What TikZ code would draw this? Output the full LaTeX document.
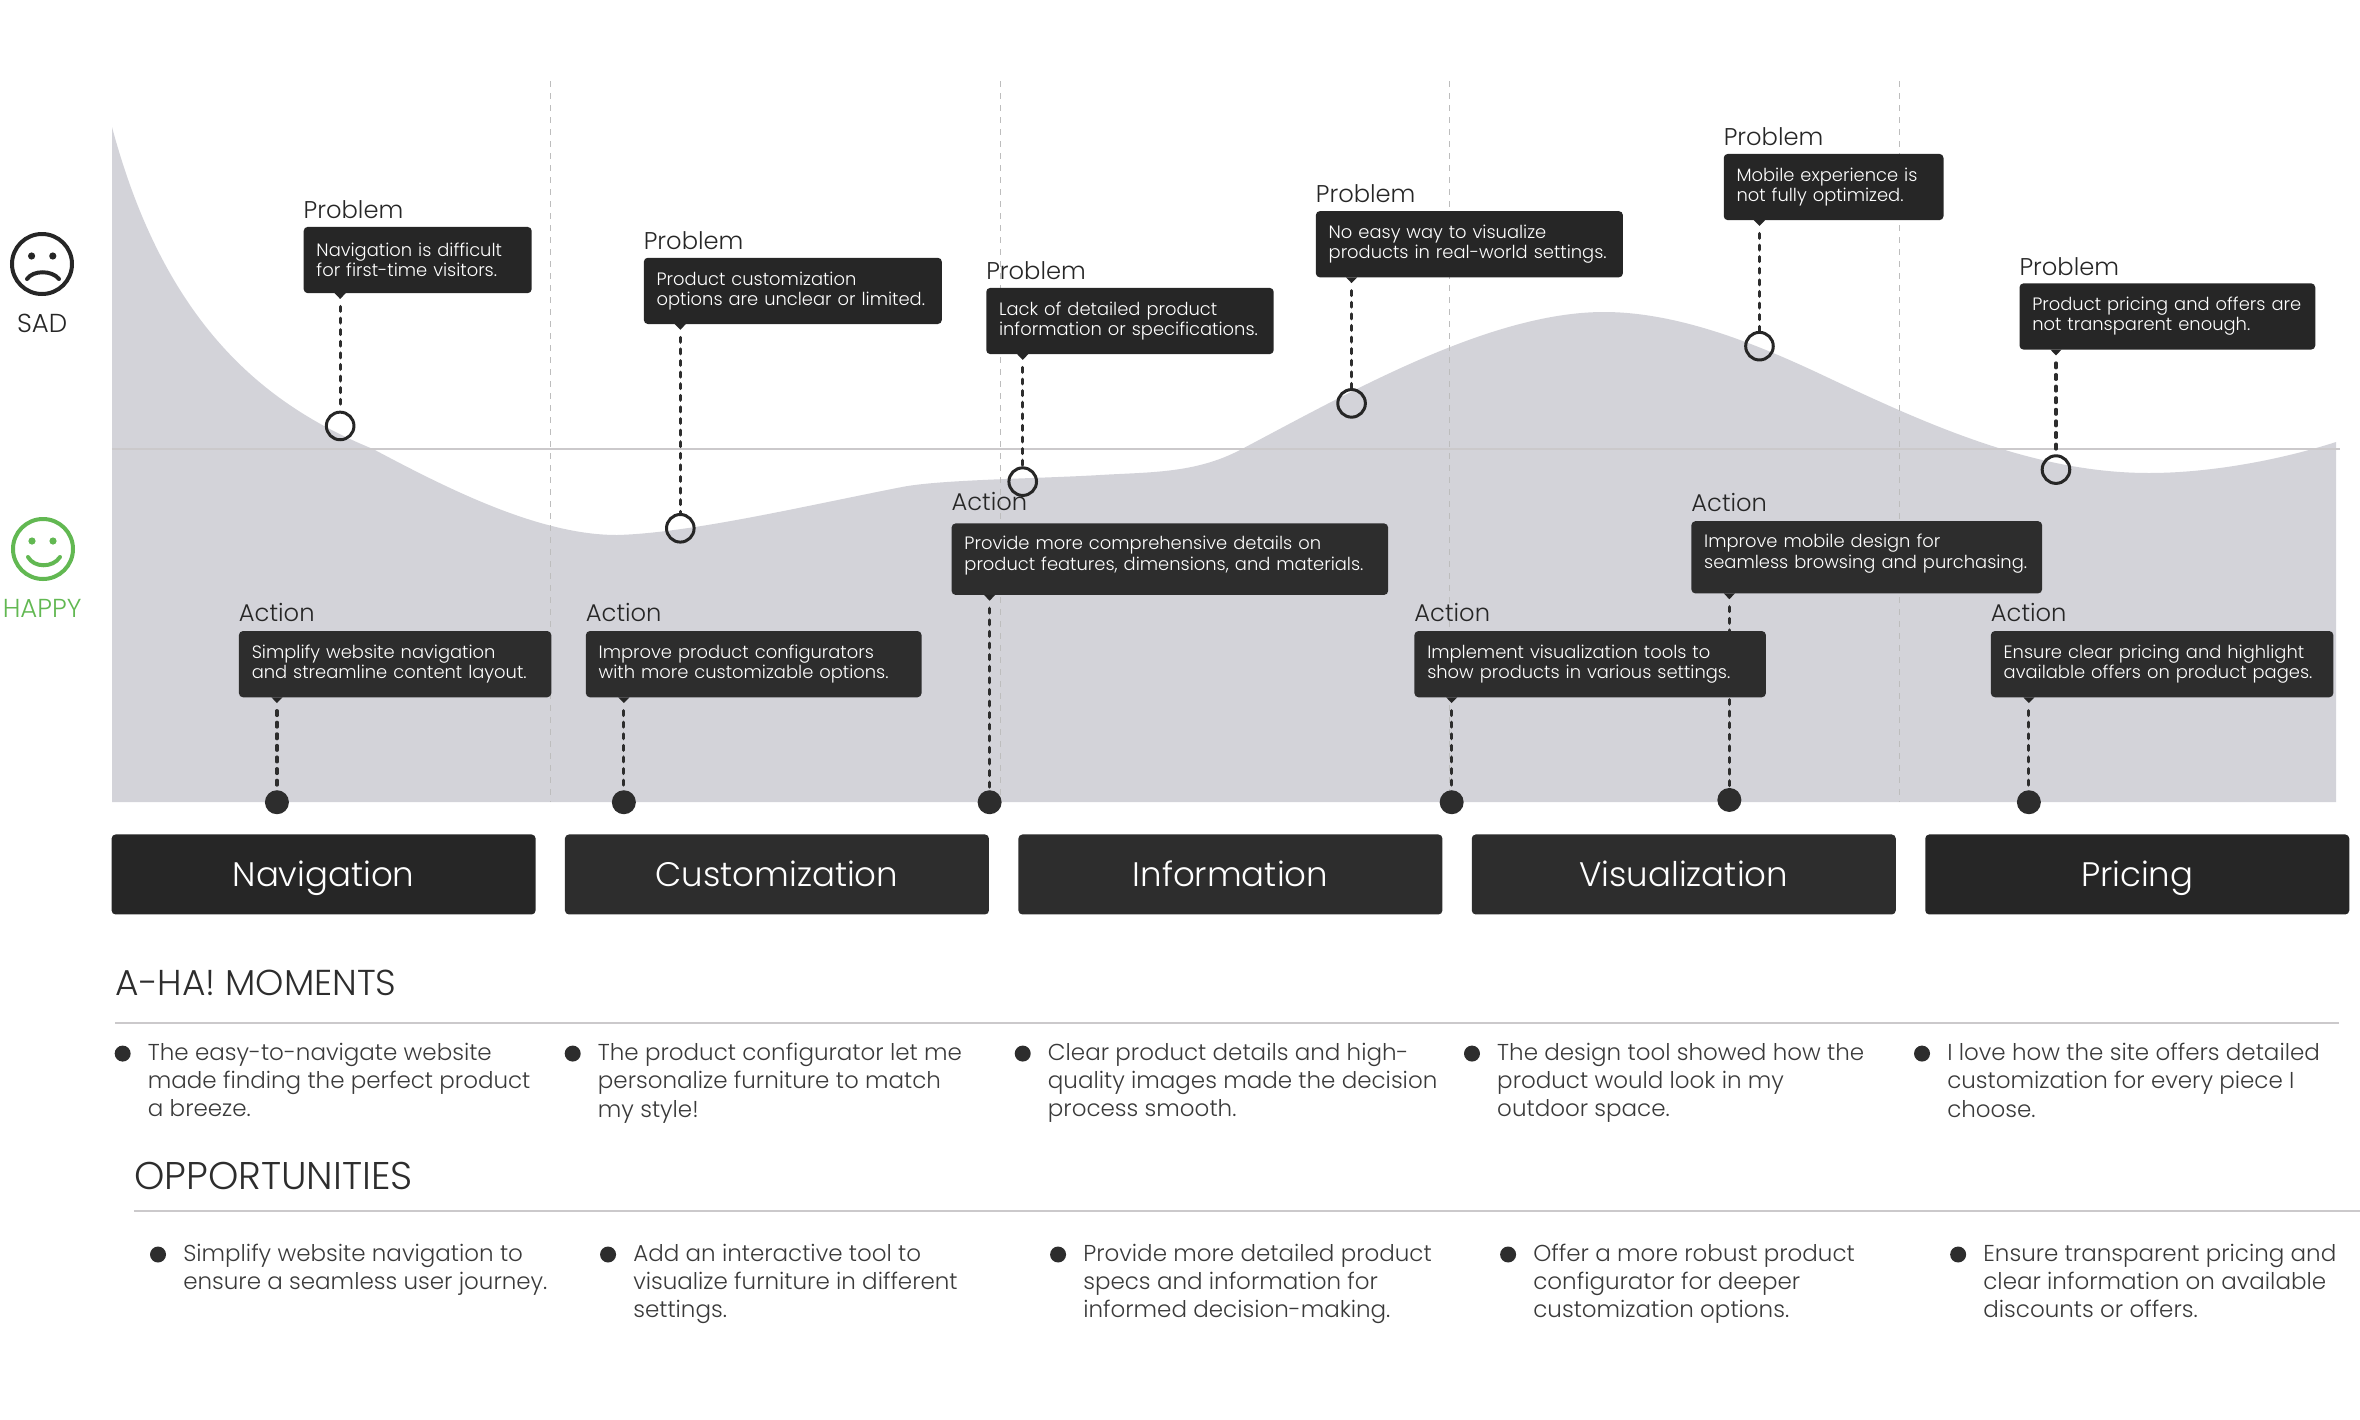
\documentclass[tikz,border=0pt]{standalone}
\usepackage{fontspec}
\setmainfont{Poppins Light}
\usetikzlibrary{calc}
\definecolor{inkdark}{HTML}{262626}
\definecolor{inkmid}{HTML}{2D2D2D}
\definecolor{bodyink}{HTML}{3A3A3A}
\definecolor{areafill}{HTML}{D3D3D9}
\definecolor{ruleline}{HTML}{CBC9CB}
\definecolor{zoneline}{HTML}{BDBDBD}
\definecolor{happygreen}{HTML}{62B852}
\pgfdeclarelayer{under}
\pgfsetlayers{under,main}
\newcommand{\twolines}[2]{\mbox{#1}\\\mbox{#2}}
\tikzset{
  callbox/.style={rounded corners=2pt,fill=inkmid,text=white,inner xsep=6.4pt,inner ysep=0pt,align=left,font=\fontsize{8.95}{10.1}\selectfont},
  problembox/.style={callbox,fill=inkdark},
  actionbox/.style={callbox,fill=inkmid},
  calltitle/.style={inner sep=0pt,text=inkdark,font=\fontsize{12.1}{13}\selectfont},
  hollowdot/.style={circle,draw=inkdark,line width=1.5pt,minimum size=13.8pt,inner sep=0pt},
  soliddot/.style={circle,fill=inkmid,minimum size=12pt,inner sep=0pt},
  dashlink/.style={draw=inkmid,line width=1.6pt,line cap=round,dash pattern=on 2.4pt off 3.4pt},
  stagebar/.style={rounded corners=2pt,fill=inkmid,text=white,inner sep=0pt,minimum width=212pt,minimum height=40pt,text height=15pt,text depth=3.4pt,font=\fontsize{17}{20}\selectfont},
  sectionhead/.style={anchor=west,inner sep=0pt,text=inkmid},
  bulletdot/.style={circle,fill=inkmid,minimum size=8pt,inner sep=0pt},
  bodytext/.style={anchor=north west,inner sep=0pt,align=left,text=bodyink,font=\fontsize{11.5}{14.05}\selectfont},
  facestroke/.style={line width=2pt,line cap=round},
  facelabel/.style={inner sep=0pt,font=\fontsize{13}{15}\selectfont},
}
% id, x, ytop, w, h, title, title gap (pt), tip x, style; text comes from \calltext
\newcommand{\callout}[9]{%
  \pgfmathsetlengthmacro{\boxtw}{#4*0.75255pt-12.8pt}%
  \pgfmathsetlengthmacro{\boxmh}{#5*0.75255pt}%
  \node[#9,anchor=north west,text width=\boxtw,minimum height=\boxmh] (#1) at (#2,#3) {\calltext};
  \node[calltitle,anchor=base west] (#1t) at ([yshift=#7pt]#1.north west) {#6};
  \coordinate (#1c) at (#8,#3);
  \fill[inkdark] ($(#1.south -| #1c)+(-2.8pt,0.2pt)$) -- ($(#1.south -| #1c)+(2.8pt,0.2pt)$) -- ($(#1.south -| #1c)+(0,-2.7pt)$) -- cycle;
}
\begin{document}
\begin{tikzpicture}[x=0.75255pt,y=-0.75255pt]
\useasboundingbox (0,0) rectangle (1568,943.45);

% ---- callouts
\def\calltext{\twolines{Navigation is difficult}{for first-time visitors.}}
\callout{p1}{201.5}{150.5}{151.5}{44}{Problem}{3.9}{226}{problembox}
\def\calltext{\twolines{Product customization}{options are unclear or limited.}}
\callout{p2}{427.5}{171}{198}{44}{Problem}{3.9}{452}{problembox}
\def\calltext{\twolines{Lack of detailed product}{information or specifications.}}
\callout{p3}{655}{191}{191}{44}{Problem}{3.9}{679.5}{problembox}
\def\calltext{\twolines{No easy way to visualize}{products in real-world settings.}}
\callout{p4}{874}{140}{204}{44}{Problem}{3.9}{898}{problembox}
\def\calltext{\twolines{Mobile experience is}{not fully optimized.}}
\callout{p5}{1145}{102}{146}{44}{Problem}{3.9}{1169}{problembox}
\def\calltext{\twolines{Product pricing and offers are}{not transparent enough.}}
\callout{p6}{1341.5}{188}{196.5}{44}{Problem}{3.9}{1366}{problembox}
\def\calltext{\twolines{Simplify website navigation}{and streamline content layout.}}
\callout{a1}{158.5}{419}{207.5}{44}{Action}{4.6}{184}{actionbox}
\def\calltext{\twolines{Improve product configurators}{with more customizable options.}}
\callout{a2}{389}{419}{223}{44}{Action}{4.6}{414.5}{actionbox}
\def\calltext{\twolines{Provide more comprehensive details on}{product features, dimensions, and materials.}\rule[-6pt]{0pt}{1pt}}
\callout{a3}{632}{347.5}{290}{47.5}{Action}{6.4}{657.5}{actionbox}
\def\calltext{\twolines{Implement visualization tools to}{show products in various settings.}}
\callout{a4}{939.5}{419}{233.5}{44}{Action}{4.6}{964.5}{actionbox}
\def\calltext{\twolines{Improve mobile design for}{seamless browsing and purchasing.}\rule[-6pt]{0pt}{1pt}}
\callout{a5}{1123.5}{346}{233}{48}{Action}{4.6}{1149}{actionbox}
\def\calltext{\twolines{Ensure clear pricing and highlight}{available offers on product pages.}}
\callout{a6}{1322.5}{419}{227.5}{44}{Action}{4.6}{1348}{actionbox}

% ---- end dots
\foreach \n/\x/\y in {p1/226/283,p2/452/351,p3/679.5/320,p4/898/268,p5/1169/230,p6/1366/312}
  \node[hollowdot] (\n e) at (\x,\y) {};
\foreach \n/\x/\y in {a1/184/533,a2/414.5/533,a3/657.5/533,a4/964.5/533,a5/1149/531.5,a6/1348/533}
  \node[soliddot] (\n e) at (\x,\y) {};

% ---- everything that lies under the boxes
\begin{pgfonlayer}{under}
  \begin{scope}[x=0.5pt,y=-0.5pt]
    \fill[areafill] (112,802) -- (112,127)
      .. controls (165,325) and (265,405) .. (373,449)
      .. controls (450,490) and (540,535) .. (617,535)
      .. controls (690,533) and (800,507) .. (902,487)
      .. controls (940,479.5) and (1040,478.6) .. (1100,475)
      .. controls (1150,472) and (1195,473.5) .. (1240,450)
      .. controls (1350,392) and (1490,312) .. (1604,312)
      .. controls (1680,312) and (1760,346) .. (1816,372)
      .. controls (1920,421) and (2030,473) .. (2149,473)
      .. controls (2210,473) and (2280,460) .. (2336,442)
      -- (2336,802) -- cycle;
  \end{scope}
  \foreach \x in {366,664.5,963,1262}
    \draw[zoneline,line width=0.6pt,dash pattern=on 3pt off 3pt] (\x,54) -- (\x,533);
  \coordinate (ml) at (74.4,298);
  \coordinate (mr) at (1554.5,298);
  \draw[ruleline,line width=1pt] (ml) -- (mr);
  \foreach \n in {p1,p2,p3,p4,p5,p6,a1,a2,a3,a4,a5,a6}
    \draw[dashlink] ([yshift=-6.5pt]\n.south -| \n c) -- (\n e.north);
\end{pgfonlayer}

% ---- stage bars
\node[stagebar,fill=inkdark] (s1) at (215,581) {Navigation};
\node[stagebar] (s2) at (516.2,581) {Customization};
\node[stagebar] (s3) at (817.5,581) {Information};
\node[stagebar] (s4) at (1118.7,581) {Visualization};
\node[stagebar,fill=inkdark] (s5) at (1420,581) {Pricing};

% ---- faces
\begin{scope}[x=0.5pt,y=-0.5pt]
  \node[circle,draw=inkdark,line width=2pt,minimum size=30pt,inner sep=0pt] (sad) at (42,264) {};
  \fill[inkdark] (31.6,256) circle (1.8pt) (52.8,256) circle (1.8pt);
  \draw[facestroke,draw=inkdark] (27,279) .. controls (33,270) and (52,270) .. (59,279);
  \node[circle,draw=happygreen,line width=2pt,minimum size=30pt,inner sep=0pt] (happy) at (43,549) {};
  \fill[happygreen] (32,541) circle (1.8pt) (53,541) circle (1.8pt);
  \draw[facestroke,draw=happygreen] (28,557) .. controls (34,568) and (53,568) .. (60,557);
\end{scope}
\node[facelabel,text=inkdark] (sadl) at (28,215) {SAD};
\node[facelabel,text=happygreen] (happyl) at (28,404) {HAPPY};

% ---- sections
\node[sectionhead,font=\fontsize{18}{20}\selectfont] (ah) at (76.5,653) {A-HA! MOMENTS};
\coordinate (a0) at (76.5,679.5);
\coordinate (a9) at (1554,679.5);
\draw[ruleline,line width=1pt] (a0) -- (a9);
\node[sectionhead,font=\fontsize{19.3}{21}\selectfont] (oh) at (89,781) {OPPORTUNITIES};
\coordinate (o0) at (89,804.5);
\coordinate (o9) at (1568,804.5);
\draw[ruleline,line width=1pt] (o0) -- (o9);

\foreach \i/\x/\t in {
  1/81.5/{The easy-to-navigate website\\made finding the perfect product\\a breeze.},
  2/380.5/{The product configurator let me\\personalize furniture to match\\my style!},
  3/679.5/{Clear product details and high-\\quality images made the decision\\process smooth.},
  4/978/{The design tool showed how the\\product would look in my\\outdoor space.},
  5/1277/{I love how the site offers detailed\\customization for every piece I\\choose.}}
{
  \node[bulletdot] (ab\i) at (\x,700) {};
  \node[bodytext] (at\i) at (\x+16.5,693) {\t};
}
\foreach \i/\x/\t in {
  1/105/{Simplify website navigation to\\ensure a seamless user journey.},
  2/404/{Add an interactive tool to\\visualize furniture in different\\settings.},
  3/703/{Provide more detailed product\\specs and information for\\informed decision-making.},
  4/1002/{Offer a more robust product\\configurator for deeper\\customization options.},
  5/1301/{Ensure transparent pricing and\\clear information on available\\discounts or offers.}}
{
  \node[bulletdot] (ob\i) at (\x,833.5) {};
  \node[bodytext] (ot\i) at (\x+16.5,826.5) {\t};
}
\end{tikzpicture}
\end{document}
